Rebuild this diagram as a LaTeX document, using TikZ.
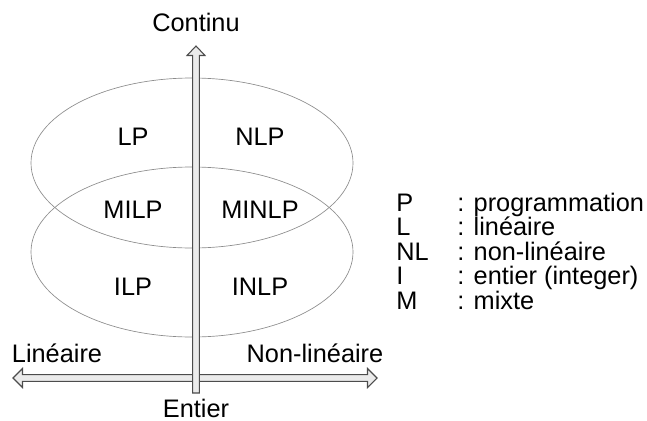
\documentclass[tikz,border=0pt]{standalone}
\usepackage{fontspec}
\setmainfont{Liberation Sans}
\usetikzlibrary{calc}
\tikzset{
    lbl/.style={font=\fontsize{19pt}{22pt}\selectfont, inner sep=0pt},
    zone/.style={draw=black!45, line width=0.5pt},
    axe/.style={draw=black!70, fill=black!8, line width=0.8pt, line join=miter}
}
\begin{document}
\begin{tikzpicture}[x=0.75pt, y=-0.75pt]
    \useasboundingbox (0, 0) rectangle (647, 421);

    % les deux ensembles
    \draw[zone] (192, 163) ellipse (161 and 85);
    \draw[zone] (192, 252) ellipse (161 and 85);

    % axes
    \coordinate (haut) at (196, 46);
    \coordinate (bas) at (196, 393);
    \coordinate (gauche) at (13, 378);
    \coordinate (droite) at (377, 378);

    \draw[axe] (gauche) -- ($(gauche)+(9.5, -9.5)$) -- ($(gauche)+(9.5, -3.3)$)
        -- ($(droite)+(-9.5, -3.3)$) -- ($(droite)+(-9.5, -9.5)$) -- (droite)
        -- ($(droite)+(-9.5, 9.5)$) -- ($(droite)+(-9.5, 3.3)$)
        -- ($(gauche)+(9.5, 3.3)$) -- ($(gauche)+(9.5, 9.5)$) -- cycle;
    \draw[axe] (haut) -- ($(haut)+(9, 9.5)$) -- ($(haut)+(3.3, 9.5)$)
        -- ($(bas)+(3.3, 0)$) -- ($(bas)+(-3.3, 0)$)
        -- ($(haut)+(-3.3, 9.5)$) -- ($(haut)+(-9, 9.5)$) -- cycle;

    \node[lbl] (continu) at (196, 22) {Continu};
    \node[lbl] (entier) at (196, 408) {Entier};
    \node[lbl] (lin) at (57, 353) {Linéaire};
    \node[lbl] (nonlin) at (315, 353) {Non-linéaire};

    \node[lbl] (lp) at (133, 137) {LP};
    \node[lbl] (nlp) at (260, 137) {NLP};
    \node[lbl] (milp) at (133, 210) {MILP};
    \node[lbl] (minlp) at (260, 210) {MINLP};
    \node[lbl] (ilp) at (133, 287) {ILP};
    \node[lbl] (inlp) at (260, 287) {INLP};

    % legende
    \node[lbl, anchor=base west] (p) at (396, 211) {P};
    \node[lbl, anchor=base west] (l) at (396, 235.5) {L};
    \node[lbl, anchor=base west] (nl) at (396, 260) {NL};
    \node[lbl, anchor=base west] (i) at (396, 284.5) {I};
    \node[lbl, anchor=base west] (m) at (396, 309) {M};
    \node[lbl, anchor=base west] (pdef) at (457, 211) {: programmation};
    \node[lbl, anchor=base west] (ldef) at (457, 235.5) {: linéaire};
    \node[lbl, anchor=base west] (nldef) at (457, 260) {: non-linéaire};
    \node[lbl, anchor=base west] (idef) at (457, 284.5) {: entier (integer)};
    \node[lbl, anchor=base west] (mdef) at (457, 309) {: mixte};
\end{tikzpicture}
\end{document}
